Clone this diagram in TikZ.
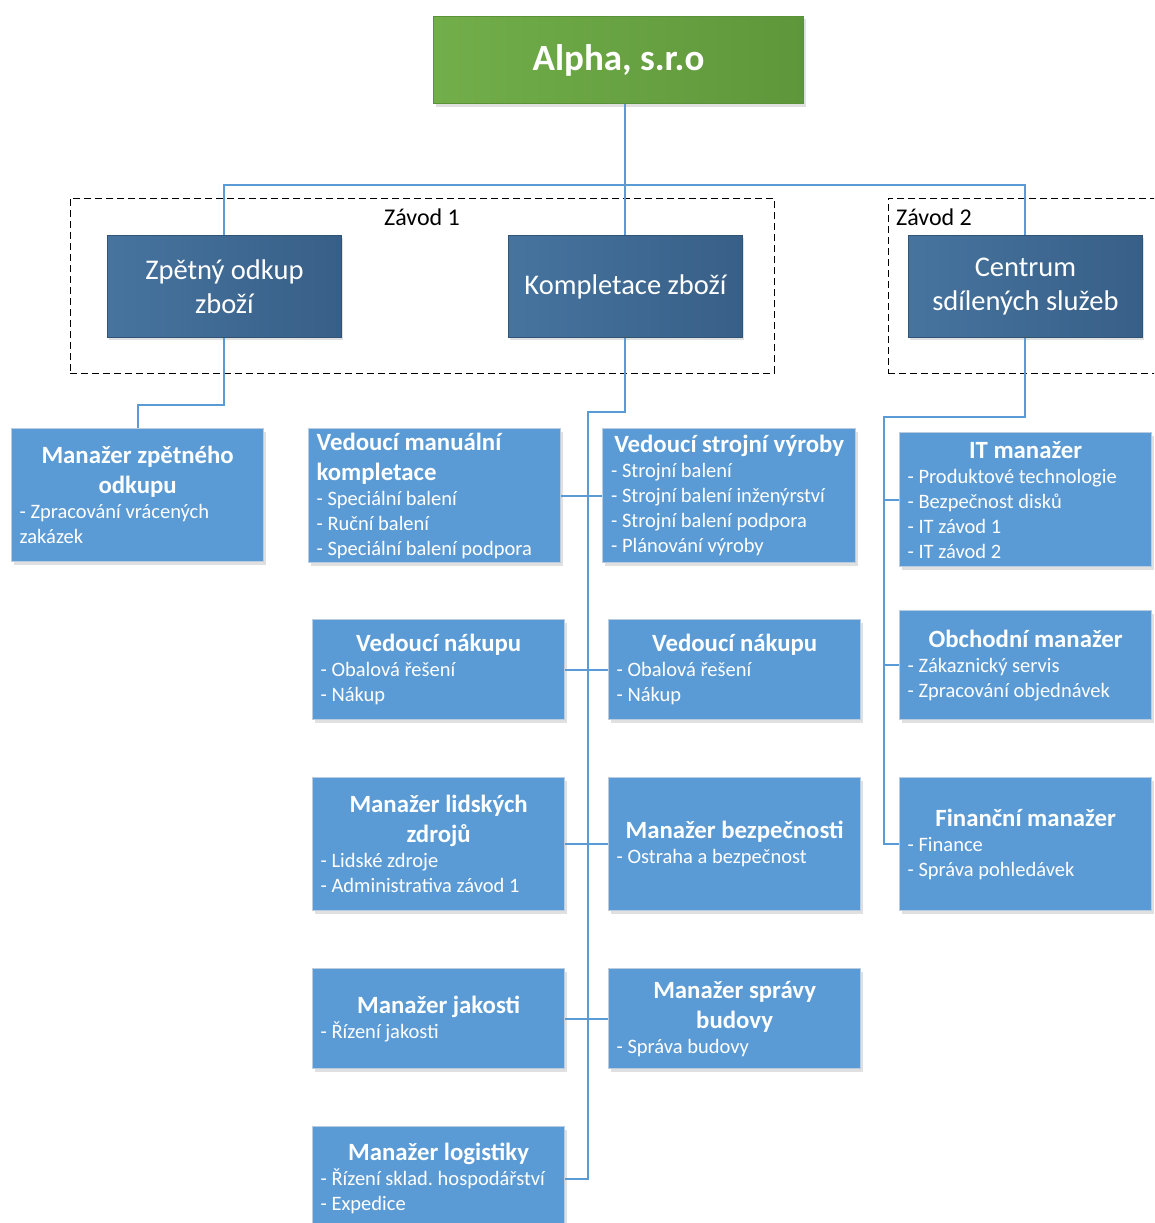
\documentclass[tikz,border=0pt]{standalone}
\usepackage{fontspec}
\setmainfont{Carlito}
\usetikzlibrary{shadows}

\definecolor{leafblue}{HTML}{5B9BD5}
\definecolor{leafedge}{HTML}{B9CCE0}
\definecolor{unitlight}{HTML}{46749F}
\definecolor{unitdark}{HTML}{385F87}
\definecolor{unitedge}{HTML}{2F5478}
\definecolor{toplight}{HTML}{72AE4A}
\definecolor{topdark}{HTML}{5E973B}
\definecolor{topedge}{HTML}{5A9139}
\definecolor{connblue}{HTML}{5B9BD5}

\frenchspacing

% title and body lines of the small boxes; word spaces come from the font itself
\newcommand\bd{\fontsize{20.5}{25}\selectfont\spaceskip=0pt\xspaceskip=0pt\relax}
\newcommand\hd[1]{{\fontsize{24.8}{30}\selectfont\bfseries\spaceskip=0pt\xspaceskip=0pt\centering #1\par}\bd}
\newcommand\hdleft[1]{{\fontsize{24.8}{30}\selectfont\bfseries\spaceskip=0pt\xspaceskip=0pt #1\par}\bd}

\begin{document}
\begin{tikzpicture}[x=1pt,y=-1pt,
  boxshadow/.style={drop shadow={shadow xshift=2pt,shadow yshift=-3pt,opacity=0.2,fill=black!60}},
  leaf/.style={draw=leafedge,line width=1.3pt,fill=leafblue,text=white,
    anchor=north west,minimum width=252pt,text width=236pt,
    inner xsep=8pt,inner ysep=0pt,align=left,
    font=\bd,boxshadow},
  unit/.style={draw=unitedge,line width=0.8pt,left color=unitlight,right color=unitdark,
    text=white,anchor=north west,minimum width=234pt,minimum height=102pt,
    align=center,font=\fontsize{28.5}{34}\selectfont,boxshadow},
  topbox/.style={draw=topedge,line width=1pt,left color=toplight,right color=topdark,
    text=white,anchor=north west,minimum width=370pt,minimum height=87pt,
    font=\fontsize{37}{44}\selectfont\bfseries,boxshadow},
  conn/.style={draw=connblue,line width=2pt},
  group/.style={draw=black,line width=0.9pt,dash pattern=on 7pt off 4pt,
    anchor=north west,inner sep=0pt},
  grouplabel/.style={font=\fontsize{24}{28}\selectfont,text=black,inner sep=0pt}
]
\useasboundingbox (0,0) rectangle (1154,1223);
\clip (0,0) rectangle (1154,1223);

% plant groupings
\node[group,minimum width=704pt,minimum height=175pt] (z1) at (70,198) {};
\node[group,minimum width=300pt,minimum height=175pt] (z2) at (888,198) {};
\node[grouplabel] (z1lab) at (422,217) {Závod 1};
\node[grouplabel,anchor=west] (z2lab) at (896,217) {Závod 2};

% company
\node[topbox] (alpha) at (433,16) {Alpha, s.r.o};

% divisions
\node[unit] (zpetny) at (107,235) {Zpětný odkup\\zboží};
\node[unit] (kompl) at (508,235) {Kompletace zboží};
\node[unit] (centrum) at (908,235) {Centrum\\sdílených služeb};

% managers
\node[leaf,minimum height=133pt] (mzo) at (11,428)
  {\hd{Manažer zpětného\\odkupu}- Zpracování vrácených\\zakázek};
\node[leaf,minimum height=134pt] (manual) at (308,428)
  {\hdleft{Vedoucí manuální\\kompletace}- Speciální balení\\- Ruční balení\\- Speciální balení podpora};
\node[leaf,minimum height=134pt,minimum width=253pt] (strojni) at (602,428)
  {\hd{Vedoucí strojní výroby}- Strojní balení\\- Strojní balení inženýrství\\- Strojní balení podpora\\- Plánování výroby};
\node[leaf,minimum height=134pt] (it) at (899,432)
  {\hd{IT manažer}- Produktové technologie\\- Bezpečnost disků\\- IT závod 1\\- IT závod 2};
\node[leaf,minimum height=100pt] (nakupL) at (312,619)
  {\hd{Vedoucí nákupu}- Obalová řešení\\- Nákup};
\node[leaf,minimum height=100pt] (nakupR) at (608,619)
  {\hd{Vedoucí nákupu}- Obalová řešení\\- Nákup};
\node[leaf,minimum height=109pt] (obch) at (899,610)
  {\hd{Obchodní manažer}- Zákaznický servis\\- Zpracování objednávek};
\node[leaf,minimum height=133pt] (lidske) at (312,777)
  {\hd{Manažer lidských\\zdrojů}- Lidské zdroje\\- Administrativa závod 1};
\node[leaf,minimum height=133pt] (bezp) at (608,777)
  {\hd{Manažer bezpečnosti}- Ostraha a bezpečnost};
\node[leaf,minimum height=133pt] (fin) at (899,777)
  {\hd{Finanční manažer}- Finance\\- Správa pohledávek};
\node[leaf,minimum height=100pt] (jakost) at (312,968)
  {\hd{Manažer jakosti}- Řízení jakosti};
\node[leaf,minimum height=100pt] (budovy) at (608,968)
  {\hd{Manažer správy\\budovy}- Správa budovy};
\node[leaf,minimum height=104pt] (logist) at (312,1126)
  {\hd{Manažer logistiky}- Řízení sklad. hospodářství\\- Expedice};

% junction heights of the connector runs
\coordinate (bus) at (0,185);
\coordinate (j1) at (0,405);
\coordinate (t1) at (588,412);
\coordinate (t2) at (884,417);

% company to divisions
\draw[conn] (kompl.north |- alpha.south) -- (kompl.north);
\draw[conn] (zpetny.north) -- (zpetny.north |- bus) -- (centrum.north |- bus) -- (centrum.north);

% buy-back branch
\draw[conn] (zpetny.south) -- (zpetny.south |- j1) -| (mzo.north);

% assembly branch
\draw[conn] (kompl.south) -- (kompl.south |- t1) -- (t1) -- (t1 |- logist.east) -- (logist.east);
\draw[conn] (manual.east) -- (strojni.west);
\draw[conn] (nakupL.east) -- (nakupR.west);
\draw[conn] (lidske.east) -- (bezp.west);
\draw[conn] (jakost.east) -- (budovy.west);

% shared services branch
\draw[conn] (centrum.south) -- (centrum.south |- t2) -- (t2) -- (t2 |- fin.west) -- (fin.west);
\draw[conn] (it.west) -- (it.west -| t2);
\draw[conn] (obch.west) -- (obch.west -| t2);
\end{tikzpicture}
\end{document}
